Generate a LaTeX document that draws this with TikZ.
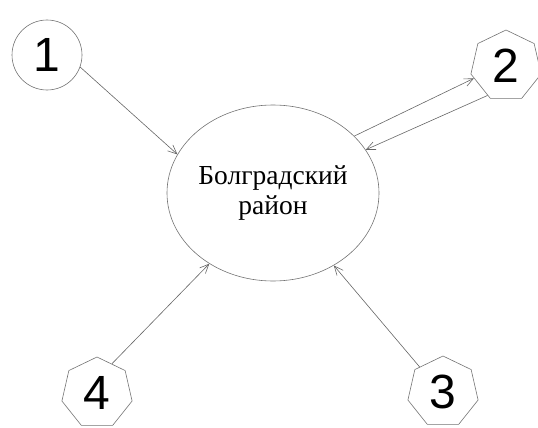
\documentclass[tikz,border=0pt]{standalone}
\usepackage{fontspec}
\setmainfont{Liberation Serif}
\newfontfamily\digitfont{Liberation Sans}
\usetikzlibrary{shapes.geometric,arrows.meta}
\begin{document}
\begin{tikzpicture}[x=1pt,y=-1pt,
  numnode/.style={draw=black!55, line width=0.6pt, inner sep=0pt, font=\digitfont\fontsize{48}{48}\selectfont},
  hepta/.style={numnode, regular polygon, regular polygon sides=7, minimum size=72pt},
  roundnum/.style={numnode, circle, minimum size=70pt},
  link/.style={draw=black!60, line width=0.6pt, -{Straight Barb[length=9pt,width=8pt]}}]
\useasboundingbox (0,0) rectangle (538,428);
\node[ellipse, draw=black!55, line width=0.6pt, minimum width=212pt, minimum height=176pt, inner sep=0pt,
  align=center, font=\fontsize{27.5}{30}\selectfont] (e) at (273,193) {Болградский\\район};
\node[roundnum] (n1) at (47,55) {1};
\node[hepta] (n2) at (506,66) {2};
\node[hepta] (n3) at (443,392) {3};
\node[hepta] (n4) at (97,393) {4};
\draw[link] (n1.-20) -- (e.158);
\draw[link] (e.35) -- (n2.201);
\draw[link] (n2.238) -- (e.25);
\draw[link] (n4.63) -- (e.228);
\draw[link] (n3.133) -- (e.310);
\end{tikzpicture}
\end{document}
